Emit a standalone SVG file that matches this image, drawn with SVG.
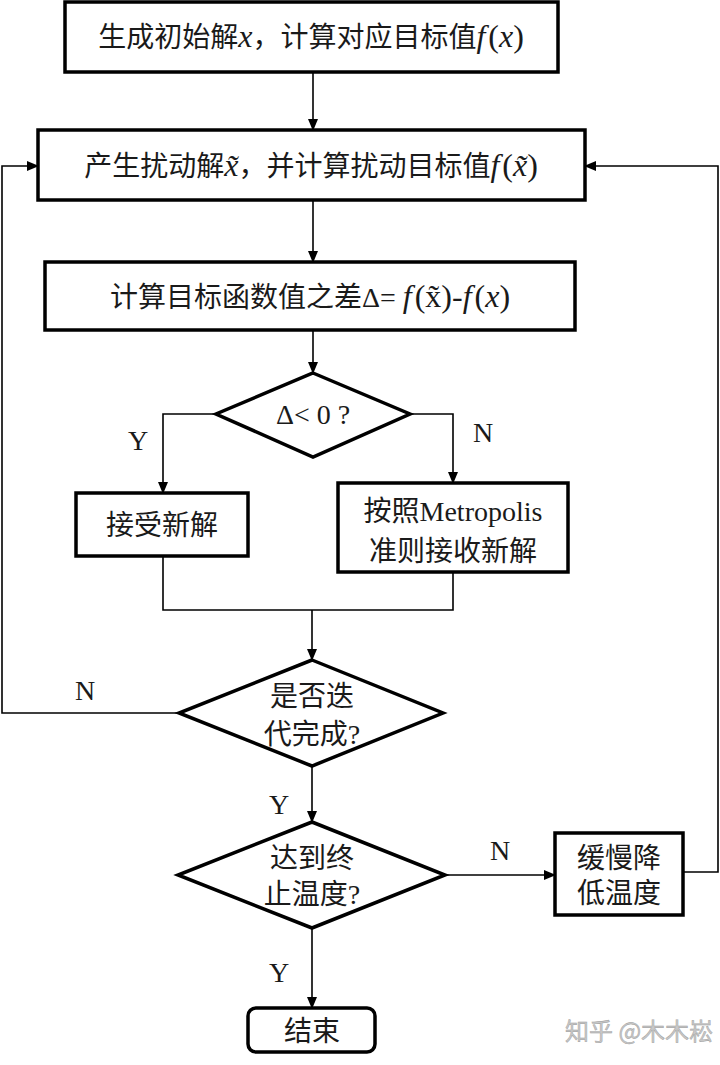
<svg xmlns="http://www.w3.org/2000/svg" width="720" height="1065" viewBox="0 0 720 1065">
<style>
.box{fill:#fff;stroke:#000;stroke-width:3.5}
.con{fill:none;stroke:#000;stroke-width:1.6}
.t{font-family:"Liberation Serif","Noto Sans CJK SC",serif;font-size:28px;fill:#1a1a1a;text-anchor:middle}
.m{font-style:italic;font-size:32px}
.p{font-size:32px}
.lbl{font-family:"Liberation Serif",serif;font-size:28px;fill:#1a1a1a;text-anchor:middle}
.wm{font-family:"Noto Sans CJK SC",sans-serif;font-size:24px;fill:#c8c8c8;stroke:#999;stroke-width:0.4}
</style>
<defs>
<marker id="arr" markerUnits="userSpaceOnUse" markerWidth="12" markerHeight="10" refX="11" refY="5" orient="auto">
<path d="M0,0 L12,5 L0,10 z" fill="#000"/>
</marker>
</defs>
<rect width="720" height="1065" fill="#fff"/>
<g id="connectors">
<path class="con" d="M313,72 V130" marker-end="url(#arr)"/>
<path class="con" d="M313,200 V262" marker-end="url(#arr)"/>
<path class="con" d="M313,330 V373" marker-end="url(#arr)"/>
<path class="con" d="M216,414 H163 V493" marker-end="url(#arr)"/>
<path class="con" d="M410,414 H453 V483" marker-end="url(#arr)"/>
<path class="con" d="M163,556 V610 H453 V572"/>
<path class="con" d="M312,610 V660" marker-end="url(#arr)"/>
<path class="con" d="M179,713 H2 V166 H38" marker-end="url(#arr)"/>
<path class="con" d="M312,766 V822" marker-end="url(#arr)"/>
<path class="con" d="M445,875 H555" marker-end="url(#arr)"/>
<path class="con" d="M683,872 H718 V166 H585" marker-end="url(#arr)"/>
<path class="con" d="M312,928 V1008" marker-end="url(#arr)"/>
<text class="lbl" x="138" y="450">Y</text>
<text class="lbl" x="483" y="442">N</text>
<text class="lbl" x="85" y="700">N</text>
<text class="lbl" x="279" y="814">Y</text>
<text class="lbl" x="500" y="860">N</text>
<text class="lbl" x="279" y="982">Y</text>
</g>
<g id="init">
<rect class="box" x="65" y="2" width="493" height="70"/>
<text class="t" x="311" y="47">生成初始解<tspan class="m">x</tspan>，计算对应目标值<tspan class="m">f</tspan><tspan class="p" dx="3">(</tspan><tspan class="m">x</tspan><tspan class="p">)</tspan></text>
</g>
<g id="perturb">
<rect class="box" x="38" y="130" width="547" height="70"/>
<text class="t" x="311" y="176">产生扰动解<tspan class="m">x̃</tspan>，并计算扰动目标值<tspan class="m">f</tspan><tspan class="p" dx="3">(</tspan><tspan class="m">x̃</tspan><tspan class="p">)</tspan></text>
</g>
<g id="delta">
<rect class="box" x="45" y="262" width="530" height="68"/>
<text class="t" x="310" y="307">计算目标函数值之差Δ= <tspan class="m">f</tspan><tspan class="p" dx="3">(</tspan><tspan class="p">x̃</tspan><tspan class="p">)-</tspan><tspan class="m">f</tspan><tspan class="p" dx="3">(</tspan><tspan class="m">x</tspan><tspan class="p">)</tspan></text>
</g>
<g id="dec1">
<polygon class="box" points="313,373 410,414 313,457 216,414"/>
<text class="t" x="313" y="424">Δ&lt; 0 ?</text>
</g>
<g id="accept">
<rect class="box" x="76" y="493" width="172" height="63"/>
<text class="t" x="162" y="535">接受新解</text>
</g>
<g id="metropolis">
<rect class="box" x="338" y="483" width="230" height="89"/>
<text class="t" x="453" y="521">按照Metropolis</text>
<text class="t" x="453" y="561">准则接收新解</text>
</g>
<g id="dec2">
<polygon class="box" points="312,660 443,713 312,766 179,713"/>
<text class="t" x="312" y="706">是否迭</text>
<text class="t" x="312" y="744">代完成?</text>
</g>
<g id="dec3">
<polygon class="box" points="312,822 445,875 312,928 178,875"/>
<text class="t" x="312" y="868">达到终</text>
<text class="t" x="312" y="904">止温度?</text>
</g>
<g id="cool">
<rect class="box" x="555" y="833" width="128" height="82"/>
<text class="t" x="619" y="868">缓慢降</text>
<text class="t" x="619" y="903">低温度</text>
</g>
<g id="end">
<rect class="box" x="248" y="1008" width="127" height="44" rx="8"/>
<text class="t" x="312" y="1041">结束</text>
</g>
<text class="wm" x="565" y="1040">知乎 @木木崧</text>
</svg>
